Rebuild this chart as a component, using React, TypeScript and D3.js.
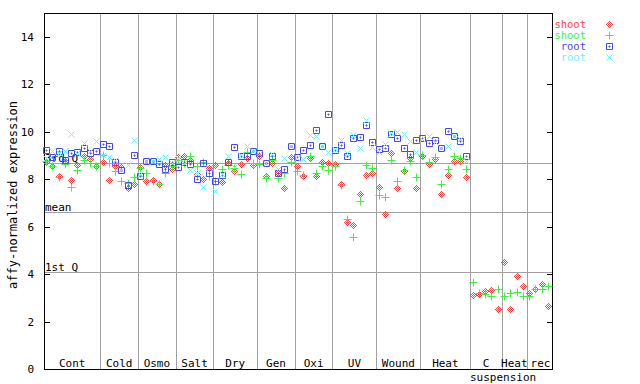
import React from "react";
import * as d3 from "d3";

const groupNames = ["Cont", "Cold", "Osmo", "Salt", "Dry", "Gen", "Oxi", "UV", "Wound", "Heat", "C", "Heat", "rec"];
const groupSizes = [9, 6, 6, 6, 7, 6, 6, 7, 7, 8, 5, 4, 4];
const yTicks = [0, 2, 4, 6, 8, 10, 12, 14];

const shoot1 = [
  8.71, 8.54, 8.12, 8.75, 7.95, 8.58, 8.96, 8.84, 8.54,
  8.71, 7.95, 8.54, 8.5, 7.61, 7.78,
  8.5, 7.91, 7.95, 7.78, 8.6, 8.42,
  8.92, 8.96, 8.79, 8.2, 7.99, 8.46,
  8.58, 7.87, 8.7, 8.33, 8.63, 8.9, 8.58,
  8.96, 8.12, 8.67, 8.25, 7.61, 8.92,
  8.54, 8.12, 8.88, 8.12, 8.71, 8.7,
  8.63, 7.78, 6.18, 6.06, 7.36, 8.16, 8.25,
  7.66, 6.52, 9.09, 7.61, 8.33, 8.88, 7.61,
  8.96, 8.63, 8.84, 7.36, 8.16, 8.75, 8.75, 8.08,
  3.1, 3.15, 3.27, 3.32, 2.52,
  4.5, 2.52, 3.91, 3.48,
  3.19, 3.36, 3.57, 2.64,
];
const shoot2 = [
  8.75, 8.54, 8.08, 8.63, 7.66, 8.37, 8.79, 8.67, 8.54,
  9.0, 8.67, 8.33, 7.91, 7.83, 8.08,
  8.46, 8.25, 7.91, 7.78, 8.25, 8.54,
  8.8, 8.7, 8.96, 8.54, 8.71, 8.12,
  7.91, 8.42, 8.6, 8.46, 8.2, 9.13, 8.67,
  8.63, 8.04, 8.8, 8.04, 8.25, 8.71,
  8.33, 8.16, 8.96, 8.25, 8.54, 8.37,
  8.54, 7.74, 6.31, 5.55, 7.07, 8.58, 8.46,
  7.32, 7.24, 8.79, 7.91, 8.37, 8.75, 8.08,
  9.0, 8.71, 8.92, 7.78, 8.42, 8.96, 8.88, 8.42,
  3.65, 3.19, 3.15, 3.06, 3.36,
  3.06, 3.19, 3.23, 3.06,
  3.06, 3.36, 3.36, 3.48,
];
const root1 = [
  9.22, 8.95, 9.2, 8.79, 9.09, 9.13, 9.3, 9.09, 9.17,
  9.5, 9.4, 8.71, 8.37, 7.74, 9.0,
  8.12, 8.75, 8.75, 8.63, 8.42, 8.71,
  8.5, 8.71, 8.63, 7.99, 8.67, 8.25,
  7.91, 8.16, 8.71, 9.34, 8.96, 8.96, 9.17,
  9.09, 8.67, 8.98, 8.27, 8.42, 9.38,
  8.92, 9.22, 9.43, 10.06, 9.38, 10.73,
  9.22, 9.43, 8.96, 9.72, 9.76, 10.27, 9.55,
  9.26, 9.3, 9.89, 9.72, 9.3, 9.05, 9.64,
  9.72, 9.51, 9.64, 9.3, 10.02, 9.8, 9.6, 8.96,
];
const root2 = [
  8.9, 9.2, 9.1, 9.17, 9.89, 9.1, 9.51, 9.2, 9.6,
  9.0, 8.92, 8.8, 8.4, 8.58, 9.64,
  8.2, 8.75, 8.75, 8.84, 8.92, 8.7,
  8.88, 8.7, 8.37, 8.25, 7.66, 8.46,
  7.49, 8.2, 8.96, 8.5, 9.0, 9.38, 9.2,
  9.05, 8.7, 9.05, 8.42, 8.88, 9.4,
  8.9, 8.84, 9.85, 9.8, 9.38, 9.13,
  9.25, 9.64, 9.1, 9.85, 9.3, 10.48, 9.34,
  9.13, 9.47, 9.95, 9.97, 9.89, 9.6, 9.13,
  9.7, 9.8, 9.55, 9.3, 9.38, 9.8, 9.68, 8.75,
];
const qLines = [
  { label: "3rd Q", value: 8.69 },
  { label: "mean", value: 6.6 },
  { label: "1st Q", value: 4.07 },
];

const RED = "#ff4040";
const GREEN = "#40f040";
const BLUE = "#4848f0";
const CYAN = "#70f0f0";
const GRID = "#a0a0a0";
const FONT = "'DejaVu Sans Mono', monospace";
const FS = 11;

const W = 640, H = 384;
const L = 44, R = 552, T = 13, B = 369;
const N = d3.sum(groupSizes);

const x = d3.scaleLinear().domain([0, N]).range([L, R]);
const y = d3.scaleLinear().domain([0, 15]).range([B, T]);

function diamondPath(px: number, py: number) {
  let d = "";
  for (let dx = -3; dx <= 3; dx++) {
    for (let dy = -3; dy <= 3; dy++) {
      const m = Math.abs(dx) + Math.abs(dy);
      if (m <= 3 && m % 2 === 1) d += `M${px + dx},${py + dy}h1v1h-1z`;
    }
  }
  return d;
}
function plusPath(px: number, py: number) {
  const c = px + 0.5, r = py + 0.5;
  return `M${c - 4},${r}H${c + 4}M${c},${r - 4}V${r + 4}`;
}
function squarePath(px: number, py: number) {
  const c = px + 0.5, r = py + 0.5;
  return `M${c - 3},${r - 3}h6v6h-6zM${px},${py}h1v1h-1z`;
}
function crossPath(px: number, py: number) {
  const c = px + 0.5, r = py + 0.5;
  return `M${c - 3},${r - 3}L${c + 3},${r + 3}M${c - 3},${r + 3}L${c + 3},${r - 3}`;
}

type Series = { name: string; color: string; values: number[]; kind: string };
const series: Series[] = [
  { name: "shoot", color: RED, values: shoot1, kind: "diamond" },
  { name: "shoot", color: GREEN, values: shoot2, kind: "plus" },
  { name: "root", color: BLUE, values: root1, kind: "square" },
  { name: "root", color: CYAN, values: root2, kind: "cross" },
];

function Marker({ kind, px, py, color }: { kind: string; px: number; py: number; color: string }) {
  if (kind === "diamond") return <path d={diamondPath(px, py)} fill={color} stroke="none" />;
  if (kind === "plus") return <path d={plusPath(px, py)} stroke={color} fill="none" strokeWidth={1} />;
  if (kind === "square") return <path d={squarePath(px, py)} stroke={color} fill="none" strokeWidth={1} />;
  return <path d={crossPath(px, py)} stroke={color} fill="none" strokeWidth={1} />;
}

export default function App() {
  const bounds: number[] = [];
  let acc = 0;
  groupSizes.forEach((s) => { bounds.push(acc); acc += s; });

  return (
    <svg width={W} height={H} style={{ position: "absolute", left: 0, top: 0, background: "#fff" }}
      fontFamily={FONT}>
      <rect x={0} y={0} width={W} height={H} fill="#fff" />
      {bounds.slice(1).map((b, i) => (
        <line key={"s" + i} x1={Math.round(x(b)) + 0.5} x2={Math.round(x(b)) + 0.5} y1={T} y2={B}
          stroke={GRID} strokeWidth={1} shapeRendering="crispEdges" />
      ))}
      {qLines.map((q) => (
        <g key={q.label}>
          <line x1={L} x2={R} y1={Math.round(y(q.value)) + 0.5} y2={Math.round(y(q.value)) + 0.5}
            stroke={GRID} strokeWidth={1} shapeRendering="crispEdges" />
          <text x={L + 1} y={Math.round(y(q.value)) - 1} fontSize={FS} fill="#000">{q.label}</text>
        </g>
      ))}
      <rect x={L + 0.5} y={T + 0.5} width={R - L} height={B - T} fill="none" stroke="#000"
        strokeWidth={1} shapeRendering="crispEdges" />
      {yTicks.map((t) => {
        const py = Math.round(y(t)) + 0.5;
        return (
          <g key={"t" + t}>
            <line x1={L} x2={L + 6} y1={py} y2={py} stroke="#000" shapeRendering="crispEdges" />
            <line x1={R - 5} x2={R} y1={py} y2={py} stroke="#000" shapeRendering="crispEdges" />
            <text x={34} y={py} textAnchor="end" dominantBaseline="central" fontSize={FS} fill="#000">{t}</text>
          </g>
        );
      })}
      <text transform={`translate(13,195) rotate(-90)`} textAnchor="middle" dominantBaseline="central"
        fontSize={12} fill="#000">affy-normalized expression</text>
      {groupNames.map((g, i) => (
        <text key={"g" + i} x={x(bounds[i] + groupSizes[i] / 2) + (i === 12 ? 1 : 0)} y={367}
          textAnchor="middle" fontSize={FS} fill="#000">{g}</text>
      ))}
      <text x={x(bounds[10] + 5.2)} y={381} textAnchor="middle" fontSize={FS} fill="#000">suspension</text>
      {series.map((s, si) => (
        <g key={"ser" + si}>
          {s.values.map((v, i) => (
            <Marker key={i} kind={s.kind} px={Math.round(x(i + 0.5)) - 1} py={Math.round(y(v))} color={s.color} />
          ))}
        </g>
      ))}
      {series.map((s, si) => {
        const ly = 24 + si * 11;
        return (
          <g key={"lg" + si}>
            <text x={586} y={ly} textAnchor="end" dominantBaseline="central" fontSize={10.5} fill={s.color}>{s.name}</text>
            <Marker kind={s.kind} px={609} py={ly} color={s.color} />
          </g>
        );
      })}
    </svg>
  );
}
